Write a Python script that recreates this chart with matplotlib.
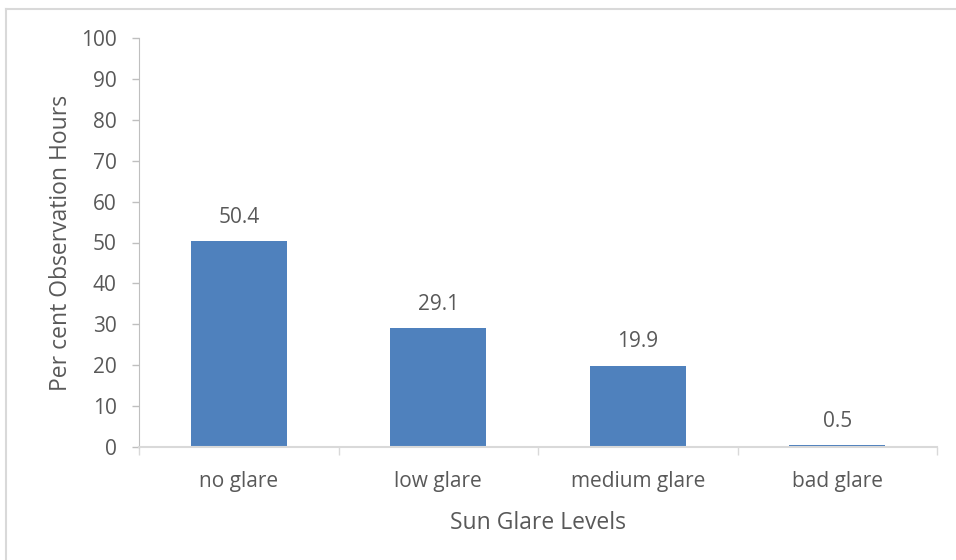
import matplotlib.pyplot as plt
import matplotlib.lines as mlines
import numpy as np

categories = ["no glare", "low glare", "medium glare", "bad glare"]
values = [50.4, 29.1, 19.9, 0.5]
y_ticks = list(range(0, 101, 10))

text_color = "#595959"
bar_color = "#4F81BD"
axis_color = "#D9D9D9"

plt.rcParams["font.family"] = ["Open Sans", "DejaVu Sans"]

fig = plt.figure(figsize=(9.56, 5.6), dpi=100)
ax = fig.add_axes([139 / 956, 1 - 447 / 560, (937 - 139) / 956, (447 - 38) / 560])

x = np.arange(len(categories))
ax.bar(x, values, width=0.48, color=bar_color, zorder=2)

for xi, v in zip(x, values):
    ax.annotate(f"{v}", (xi, v), xytext=(0, 17), textcoords="offset points",
                ha="center", va="center", fontsize=15, color=text_color)

ax.set_xlim(-0.5, len(categories) - 0.5)
ax.set_ylim(0, 100)
ax.set_yticks(y_ticks)
ax.set_yticklabels([str(t) for t in y_ticks], fontsize=15, color=text_color)
ax.tick_params(axis="y", length=5, width=1, color="#BFBFBF", pad=11)

ax.set_xticks(x)
ax.set_xticklabels(categories, fontsize=15, color=text_color)
ax.tick_params(axis="x", length=0, pad=17)
ax.set_xticks(np.arange(-0.5, len(categories), 1.0), minor=True)
ax.tick_params(axis="x", which="minor", length=6, width=1, color=axis_color)

for side in ("top", "right"):
    ax.spines[side].set_visible(False)
ax.spines["left"].set_color("#BFBFBF")
ax.spines["bottom"].set_color(axis_color)
ax.spines["bottom"].set_linewidth(1.5)

ax.set_ylabel("Per cent Observation Hours", fontsize=16.5, color=text_color, labelpad=6)
ax.set_xlabel("Sun Glare Levels", fontsize=16.5, color=text_color, labelpad=14)

# Chart-area frame (top and left edges)
fig.add_artist(mlines.Line2D([6 / 956, 1], [1 - 9 / 560, 1 - 9 / 560],
                             transform=fig.transFigure, color="#D9D9D9", lw=1.5))
fig.add_artist(mlines.Line2D([6 / 956, 6 / 956], [0, 1 - 9 / 560],
                             transform=fig.transFigure, color="#D9D9D9", lw=1.5))

fig.savefig("out.png", dpi=100)
